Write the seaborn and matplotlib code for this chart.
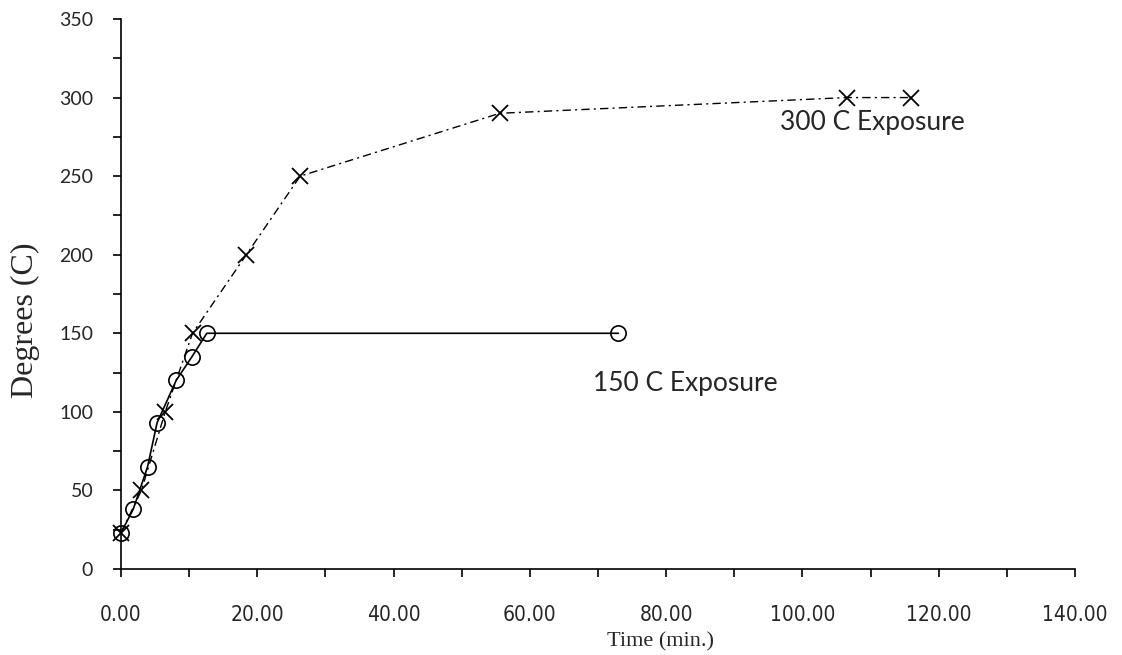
import matplotlib
matplotlib.use("Agg")
import matplotlib.pyplot as plt
import seaborn as sns
import pandas as pd
from matplotlib.ticker import MultipleLocator, FormatStrFormatter

# Data
t150 = [0.0, 1.8, 3.9, 5.3, 8.1, 10.4, 12.6, 73.0]
deg150 = [23, 38, 65, 93, 120, 135, 150, 150]
t300 = [0.0, 3.0, 6.5, 10.5, 18.4, 26.3, 55.6, 106.5, 115.9]
deg300 = [23, 50, 100, 150, 200, 250, 290, 300, 300]
label150 = "150 C Exposure"
label300 = "300 C Exposure"
xlabel = "Time (min.)"
ylabel = "Degrees (C)"

sns.set_style("ticks")
plt.rcParams['font.family'] = ['Lato', 'DejaVu Sans']

df150 = pd.DataFrame({"t": t150, "d": deg150})
df300 = pd.DataFrame({"t": t300, "d": deg300})

fig = plt.figure(figsize=(11.22, 6.55), dpi=100)
ax = fig.add_axes([0.1078, 0.1313, 0.8503, 0.8397])

sns.lineplot(data=df300, x="t", y="d", ax=ax, estimator=None, sort=False,
             color="black", linewidth=1.0, marker="x", markersize=11,
             markeredgewidth=1.3, markeredgecolor="black", clip_on=False)
ax.lines[-1].set_linestyle((0, (6, 3, 1.5, 3)))
sns.lineplot(data=df150, x="t", y="d", ax=ax, estimator=None, sort=False,
             color="black", linewidth=1.2, marker="o", markersize=11,
             markerfacecolor="none", markeredgewidth=1.2, markeredgecolor="black",
             clip_on=False)

ax.set_xlim(0, 140)
ax.set_ylim(0, 350)
ax.xaxis.set_major_locator(MultipleLocator(20))
ax.xaxis.set_minor_locator(MultipleLocator(10))
ax.yaxis.set_major_locator(MultipleLocator(50))
ax.yaxis.set_minor_locator(MultipleLocator(25))
ax.xaxis.set_major_formatter(FormatStrFormatter("%.2f"))

for s in ["top", "right"]:
    ax.spines[s].set_visible(False)
for s in ["left", "bottom"]:
    ax.spines[s].set_linewidth(1.2)
    ax.spines[s].set_color("black")

ax.tick_params(axis="both", which="both", direction="out", length=6, width=1.2, color="black")
ax.tick_params(axis="y", which="major", pad=14, labelsize=14)
ax.tick_params(axis="x", which="major", pad=20, labelsize=15)
for lab in ax.get_xticklabels():
    lab.set_family(["DejaVu Sans"])
    lab.set_fontstretch("condensed")

ax.set_xlabel(xlabel, family=["Liberation Serif"], fontsize=16)
ax.xaxis.set_label_coords(0.566, -0.133)
ax.xaxis.label.set_va("center")
ax.set_ylabel(ylabel, family=["Liberation Serif"], fontsize=23)
ax.yaxis.set_label_coords(-0.1006, 0.453)
ax.yaxis.label.set_va("center")

ax.text(69.3, 118, label150, fontsize=19, va="center", ha="left")
ax.text(96.7, 284, label300, fontsize=19, va="center", ha="left")

fig.savefig("out.png", dpi=100, facecolor="white")
